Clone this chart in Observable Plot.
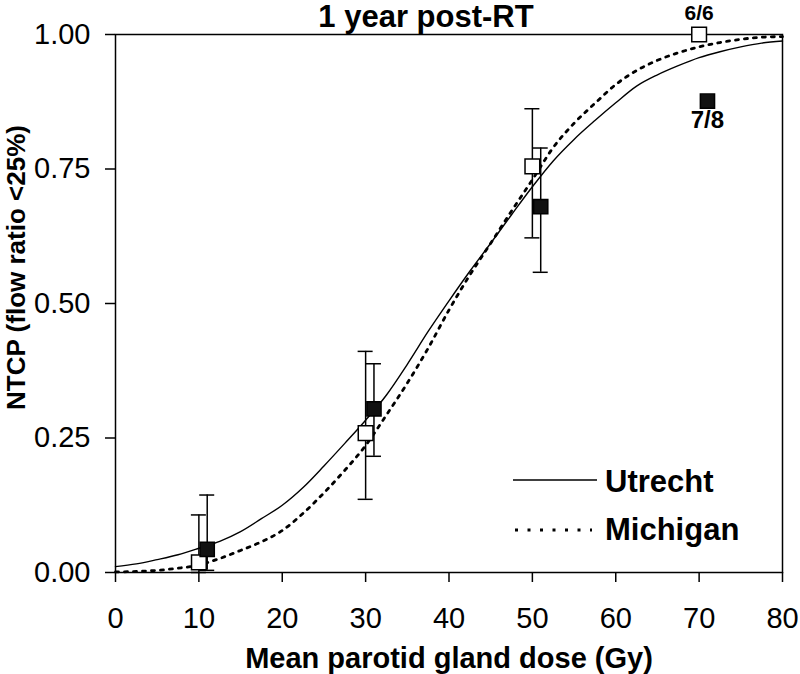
<!DOCTYPE html>
<html>
<head>
<meta charset="utf-8">
<script src="https://cdn.jsdelivr.net/npm/d3@7"></script>
<script src="https://cdn.jsdelivr.net/npm/@observablehq/plot@0.6"></script>
<style>
  html, body { margin: 0; padding: 0; background: #fff; }
  #chart svg { display: block; }
</style>
</head>
<body>
<div id="chart"></div>
<script>
// ---- data ----
const titleText = "1 year post-RT";
const xLabel = "Mean parotid gland dose (Gy)";
const yLabel = "NTCP (flow ratio <25%)";

const doseGrid = [0, 2.5, 5, 7.5, 10, 12.5, 15, 17.5, 20, 22.5, 25, 27.5, 30, 32.5, 35, 37.5, 40,
  42.5, 45, 47.5, 50, 52.5, 55, 57.5, 60, 62.5, 65, 67.5, 70, 72.5, 75, 77.5, 80];
const utrechtNtcp = [0.011, 0.016, 0.024, 0.033, 0.045, 0.058, 0.076, 0.100, 0.125, 0.158, 0.198,
  0.240, 0.283, 0.330, 0.387, 0.448, 0.505, 0.560, 0.612, 0.665, 0.717, 0.765, 0.805, 0.840, 0.873,
  0.904, 0.925, 0.942, 0.957, 0.968, 0.977, 0.984, 0.988];
const michiganNtcp = [0.001, 0.002, 0.004, 0.008, 0.014, 0.026, 0.041, 0.057, 0.078, 0.110, 0.148,
  0.190, 0.236, 0.293, 0.352, 0.417, 0.488, 0.553, 0.612, 0.672, 0.730, 0.790, 0.835, 0.872, 0.907,
  0.933, 0.952, 0.966, 0.977, 0.985, 0.991, 0.995, 0.996];

const openDose = [10, 30, 50, 70];
const openNtcp = [0.019, 0.259, 0.755, 1.0];
const openLow = [0.0, 0.136, 0.622, null];
const openHigh = [0.107, 0.411, 0.862, null];
const openLabel = [null, null, null, "6/6"];

const filledDose = [11, 31, 51, 71];
const filledNtcp = [0.043, 0.304, 0.680, 0.876];
const filledLow = [0.004, 0.216, 0.558, null];
const filledHigh = [0.144, 0.388, 0.789, null];
const filledLabel = [null, null, null, "7/8"];

const xTicks = [0, 10, 20, 30, 40, 50, 60, 70, 80];
const yTicks = [0, 0.25, 0.5, 0.75, 1.0];

const legendLabels = ["Utrecht", "Michigan"];
const legendDash = [null, "3,9.5"];

// ---- tables ----
const curveUtrecht = doseGrid.map((d, i) => ({dose: d, ntcp: utrechtNtcp[i]}));
const curveMichigan = doseGrid.map((d, i) => ({dose: d, ntcp: michiganNtcp[i]}));
const openPts = openDose.map((d, i) => ({dose: d, ntcp: openNtcp[i], lo: openLow[i], hi: openHigh[i], label: openLabel[i]}));
const filledPts = filledDose.map((d, i) => ({dose: d, ntcp: filledNtcp[i], lo: filledLow[i], hi: filledHigh[i], label: filledLabel[i]}));
const allPts = [...openPts, ...filledPts];
const errPts = allPts.filter(d => d.lo != null);
const capPts = errPts.flatMap(d => [{dose: d.dose, y: d.lo}, {dose: d.dose, y: d.hi}]);

const FONT = "'Liberation Sans', Arial, Helvetica, sans-serif";

function legendMark(index, scales, values, dimensions) {
  const g = d3.create("svg:g");
  const right = dimensions.width - dimensions.marginRight;
  const rows = [
    {x1: right - 269, x2: right - 185, y: 480, tx: right - 177, ty: 491.5, size: 31},
    {x1: right - 267, x2: right - 190, y: 530, tx: right - 177, ty: 540, size: 31}
  ];
  legendLabels.forEach((lab, i) => {
    const r = rows[i];
    const line = g.append("line")
      .attr("x1", r.x1).attr("x2", r.x2).attr("y1", r.y).attr("y2", r.y)
      .attr("stroke", "black")
      .attr("stroke-width", legendDash[i] ? 3 : 1.5);
    if (legendDash[i]) line.attr("stroke-dasharray", legendDash[i]);
    g.append("text")
      .attr("x", r.tx).attr("y", r.ty)
      .attr("text-anchor", "start")
      .attr("font-family", FONT)
      .attr("font-size", r.size)
      .attr("font-weight", "bold")
      .attr("fill", "black")
      .text(lab);
  });
  return g.node();
}

const chart = Plot.plot({
  width: 800,
  height: 674,
  marginLeft: 115,
  marginRight: 18,
  marginTop: 34,
  marginBottom: 102,
  style: {fontFamily: FONT, color: "black", background: "white", overflow: "visible"},
  x: {domain: [0, 80], ticks: xTicks},
  y: {domain: [0, 1], ticks: yTicks},
  marks: [
    Plot.frame({stroke: "black", strokeWidth: 1.5}),
    Plot.line(curveUtrecht, {x: "dose", y: "ntcp", stroke: "black", strokeWidth: 1.4, curve: "monotone-x"}),
    Plot.line(curveMichigan, {x: "dose", y: "ntcp", stroke: "black", strokeWidth: 2.8, strokeDasharray: "3,6", curve: "monotone-x"}),
    Plot.ruleX(errPts, {x: "dose", y1: "lo", y2: "hi", stroke: "black", strokeWidth: 1.5}),
    Plot.ruleY(capPts, {x1: "dose", x2: "dose", y: "y", stroke: "black", strokeWidth: 1.5, insetLeft: -7.5, insetRight: -7.5}),
    Plot.dot(openPts, {x: "dose", y: "ntcp", symbol: "square", r: 8.3, fill: "white", stroke: "black", strokeWidth: 1.5}),
    Plot.dot(filledPts, {x: "dose", y: "ntcp", symbol: "square", r: 8.0, fill: "#111", stroke: "black", strokeWidth: 1.5}),
    Plot.text(openPts.filter(d => d.label), {x: "dose", y: "ntcp", text: "label", dy: -15, lineAnchor: "bottom", fontSize: 21, fontWeight: "bold", fill: "black"}),
    Plot.text(filledPts.filter(d => d.label), {x: "dose", y: "ntcp", text: "label", dy: 27, lineAnchor: "bottom", fontSize: 24, fontWeight: "bold", fill: "black"}),
    Plot.axisX({ticks: xTicks, tickSize: 10, tickPadding: 25, fontSize: 29, label: null, strokeWidth: 1.5}),
    Plot.axisY({ticks: yTicks, tickFormat: d3.format(".2f"), tickSize: 10, tickPadding: 15, fontSize: 29, label: null, strokeWidth: 1.5}),
    Plot.text([titleText], {frameAnchor: "top", textAnchor: "middle", dx: -23, dy: -8, lineAnchor: "bottom", fontSize: 31, fontWeight: "bold", fill: "black"}),
    Plot.text([xLabel], {frameAnchor: "bottom", textAnchor: "middle", dy: 95, lineAnchor: "bottom", fontSize: 29, fontWeight: "bold", fill: "black"}),
    Plot.text([yLabel], {frameAnchor: "left", textAnchor: "middle", rotate: -90, dx: -99, dy: -36, lineAnchor: "middle", fontSize: 26, fontWeight: "bold", fill: "black"}),
    legendMark
  ]
});

document.getElementById("chart").appendChild(chart);
</script>
</body>
</html>
